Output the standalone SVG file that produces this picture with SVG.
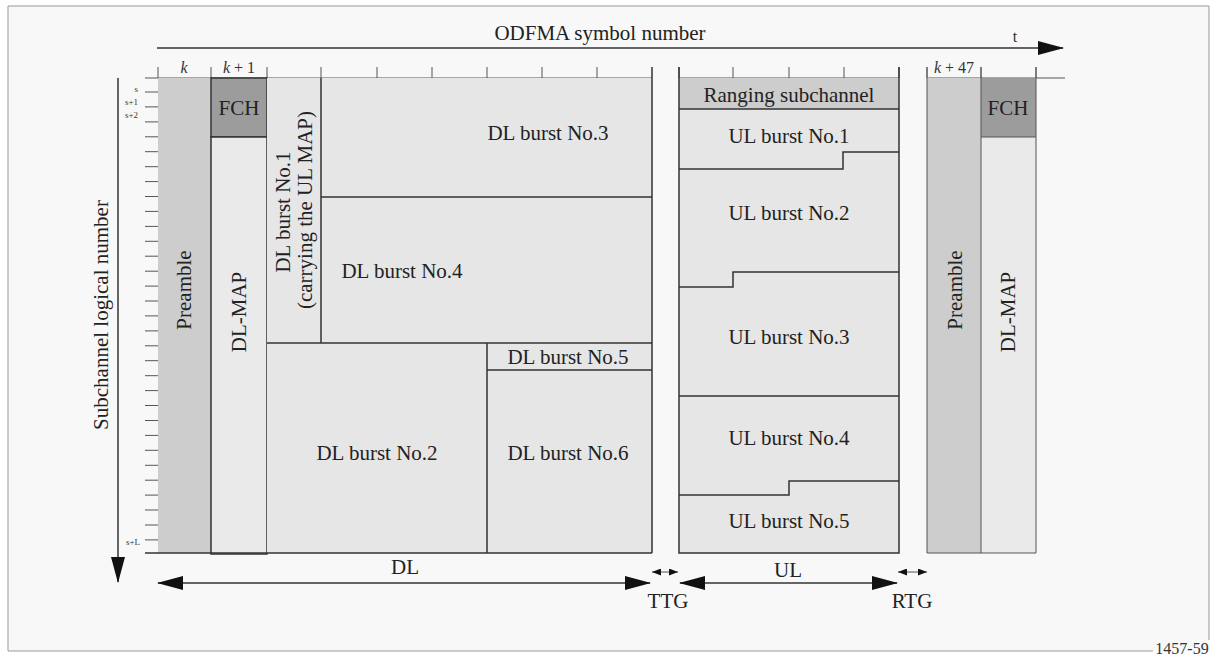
<svg xmlns="http://www.w3.org/2000/svg" width="1217" height="657" viewBox="0 0 1217 657">
<defs>
<style>
.t{font-family:"Liberation Serif","Times New Roman",serif;font-size:21px;fill:#222;text-anchor:middle;dominant-baseline:central}
.sm{font-family:"Liberation Serif","Times New Roman",serif;font-size:9px;fill:#333;text-anchor:end;dominant-baseline:central}
.k{font-family:"Liberation Serif","Times New Roman",serif;font-size:16px;fill:#333;text-anchor:middle}
.ln{stroke:#333;stroke-width:1.5;fill:none}
.lt{stroke:#555;stroke-width:1;fill:none}
.cell{fill:#e6e6e6}
.pre{fill:#cdcdcd}
.fch{fill:#9c9c9c;stroke:#333;stroke-width:1.5}
.map{fill:#eaeaea;stroke:#333;stroke-width:1.5}
</style>
<marker id="big" markerUnits="userSpaceOnUse" markerWidth="26" markerHeight="14" refX="25" refY="7" orient="auto-start-reverse"><path d="M0,0 L26,7 L0,14 z" fill="#111"/></marker>
<marker id="small" markerUnits="userSpaceOnUse" markerWidth="9" markerHeight="7" refX="9" refY="3.5" orient="auto-start-reverse"><path d="M0,0 L9,3.5 L0,7 z" fill="#111"/></marker>
</defs>
<rect x="0" y="0" width="1217" height="657" fill="#ffffff"/>
<rect x="8" y="6" width="1201" height="645" fill="#f8f8f8"/>
<path d="M1153,651H8V6H1209V640" fill="none" stroke="#999" stroke-width="1"/>

<g id="axes">
<text class="t" x="600" y="33">ODFMA symbol number</text>
<text class="k" x="1015" y="42">t</text>
<text class="t" transform="translate(101,315) rotate(-90)">Subchannel logical number</text>
<path class="lt" d="M145,92.0h13M145,106.9h13M145,121.9h13M145,136.8h13M145,151.7h13M145,166.7h13M145,181.6h13M145,196.5h13M145,211.4h13M145,226.4h13M145,241.3h13M145,256.2h13M145,271.2h13M145,286.1h13M145,301.0h13M145,315.9h13M145,330.9h13M145,345.8h13M145,360.7h13M145,375.7h13M145,390.6h13M145,405.5h13M145,420.5h13M145,435.4h13M145,450.3h13M145,465.3h13M145,480.2h13M145,495.1h13M145,510.0h13M145,525.0h13M145,539.9h13"/>
<path class="lt" d="M158,67v11M211,67v11M267,67v11M321,67v11M377,67v11M432,67v11M487,67v11M542,67v11M597,67v11M679,67v11M733,67v11M789,67v11M844,67v11M899,67v11M927,67v11M981,67v11M1036,67v11"/>
<path class="lt" d="M145,78H652M679,78H899M927,78H1065"/>
<text class="sm" x="138" y="89">s</text>
<text class="sm" x="138" y="102">s+1</text>
<text class="sm" x="138" y="115">s+2</text>
<text class="sm" x="140" y="542">s+L</text>
<text class="k" x="184" y="73"><tspan font-style="italic">k</tspan></text>
<text class="k" x="239" y="73"><tspan font-style="italic">k</tspan> + 1</text>
<text class="k" x="954" y="73"><tspan font-style="italic">k</tspan> + 47</text>
</g>

<g id="preamble1">
<rect class="pre" x="158" y="78" width="53" height="475"/>
<text class="t" transform="translate(184,290) rotate(-90)">Preamble</text>
</g>
<g id="fch1">
<rect class="fch" x="211" y="78" width="56" height="59"/>
<text class="t" x="239" y="108">FCH</text>
</g>
<g id="dlmap1">
<rect class="map" x="211" y="137" width="56" height="417"/>
<text class="t" transform="translate(239,312) rotate(-90)">DL-MAP</text>
</g>
<g id="dl1">
<rect class="cell" x="267" y="78" width="54" height="265"/>
<text class="t" transform="translate(283,212) rotate(-90)">DL burst No.1</text>
<text class="t" transform="translate(305,210) rotate(-90)">(carrying the UL MAP)</text>
</g>
<g id="dl3">
<rect class="cell" x="321" y="78" width="331" height="119"/>
<text class="t" x="548" y="133">DL burst No.3</text>
</g>
<g id="dl4">
<rect class="cell" x="321" y="197" width="331" height="146"/>
<text class="t" x="402" y="271">DL burst No.4</text>
</g>
<g id="dl2">
<rect class="cell" x="267" y="343" width="220" height="210"/>
<text class="t" x="377" y="453">DL burst No.2</text>
</g>
<g id="dl5">
<rect class="cell" x="487" y="343" width="165" height="27"/>
<text class="t" x="568" y="357">DL burst No.5</text>
</g>
<g id="dl6">
<rect class="cell" x="487" y="370" width="165" height="183"/>
<text class="t" x="568" y="453">DL burst No.6</text>
</g>

<g id="ul">
<rect class="cell" x="679" y="78" width="220" height="475"/>
<rect class="pre" x="679" y="78" width="220" height="31"/>
</g>
<g id="ranging"><text class="t" x="789" y="95">Ranging subchannel</text></g>
<g id="ul1"><text class="t" x="789" y="136">UL burst No.1</text></g>
<g id="ul2"><text class="t" x="789" y="213">UL burst No.2</text></g>
<g id="ul3"><text class="t" x="789" y="337">UL burst No.3</text></g>
<g id="ul4"><text class="t" x="789" y="438">UL burst No.4</text></g>
<g id="ul5"><text class="t" x="789" y="521">UL burst No.5</text></g>

<g id="preamble2">
<rect class="pre" x="927" y="78" width="54" height="475"/>
<text class="t" transform="translate(955,290) rotate(-90)">Preamble</text>
</g>
<g id="fch2">
<rect class="fch" x="981" y="78" width="55" height="59" style="stroke:none"/>
<text class="t" x="1008" y="108">FCH</text>
</g>
<g id="dlmap2">
<rect x="981" y="137" width="55" height="416" fill="#eaeaea"/>
<text class="t" transform="translate(1008,312) rotate(-90)">DL-MAP</text>
</g>

<g id="borders">
<path class="ln" d="M145,553H652M652,67V553M321,78V343M267,343H652M487,343V553M487,370H652M321,197H652"/>
<path class="ln" d="M679,67V553H899V67M679,109H899M679,169H843V152H899M679,287H733V272H899M679,396H899M679,495H789V481H899"/>
<path class="lt" d="M927,67V553H1036V67M981,67V553M981,137H1036"/>
</g>

<g id="connectors">
<line class="ln" x1="157" y1="48" x2="1063" y2="48" marker-end="url(#big)"/>
<line class="ln" x1="118" y1="78" x2="118" y2="582" marker-end="url(#big)"/>
<line class="ln" x1="158" y1="583" x2="650" y2="583" marker-start="url(#big)" marker-end="url(#big)"/>
<line class="ln" x1="680" y1="583" x2="897" y2="583" marker-start="url(#big)" marker-end="url(#big)"/>
<line class="lt" x1="652" y1="572" x2="678" y2="572" marker-start="url(#small)" marker-end="url(#small)"/>
<line class="lt" x1="898" y1="572" x2="927" y2="572" marker-start="url(#small)" marker-end="url(#small)"/>
</g>
<g id="labels">
<text class="t" x="405" y="567">DL</text>
<text class="t" x="788" y="570">UL</text>
<text class="t" x="668" y="601">TTG</text>
<text class="t" x="912" y="601">RTG</text>
<text class="k" x="1182" y="654">1457-59</text>
</g>
</svg>
